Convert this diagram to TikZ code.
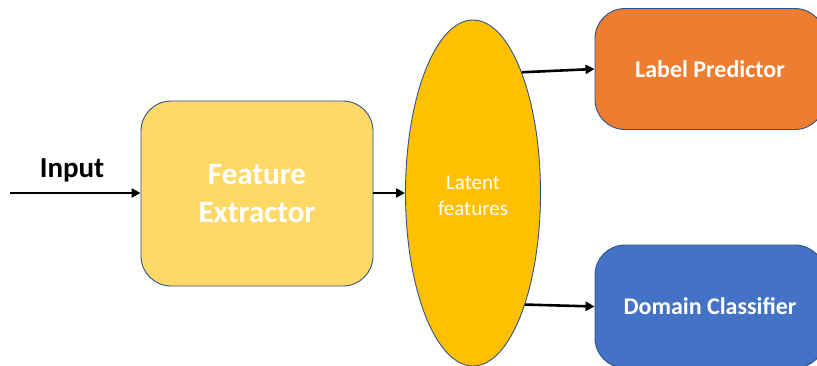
\documentclass[tikz,border=0pt]{standalone}
\usepackage{fontspec}
\setmainfont{Carlito}
\usetikzlibrary{arrows.meta,shapes.geometric}
\definecolor{fegold}{HTML}{FFD966}
\definecolor{latgold}{HTML}{FFC000}
\definecolor{lporange}{HTML}{ED7D31}
\definecolor{dcblue}{HTML}{4472C4}
\definecolor{edgeblue}{HTML}{2F528F}
\tikzset{
  block/.style={draw=edgeblue, line width=0.9pt, rounded corners=30pt,
    text=white, font=\bfseries, align=center, inner sep=0pt},
  flow/.style={line width=2.6pt, -{Triangle[length=9pt,width=9pt]}},
}
\begin{document}
\begin{tikzpicture}[x=1pt,y=-1pt]
\clip (0,0) rectangle (817,365);
\fill[white] (0,0) rectangle (817,365);

% processing stages
\node[block, fill=fegold, minimum width=232pt, minimum height=185pt,
  font=\bfseries\fontsize{31}{38}\selectfont] (fe) at (257,193.5) {Feature\\Extractor};
\node[ellipse, draw=edgeblue, line width=0.9pt, fill=latgold, inner sep=0pt,
  minimum width=135pt, minimum height=346pt, text=white, align=center,
  font=\fontsize{21}{26}\selectfont] (lat) at (473,193) {};
\node[text=white, align=center, font=\fontsize{21}{26}\selectfont, inner sep=0pt]
  (latlabel) at (473,196) {Latent\\features};
\node[block, fill=lporange, minimum width=230pt, minimum height=121pt,
  font=\bfseries\fontsize{24}{28}\selectfont] (lp) at (710,69) {Label Predictor};
\node[block, fill=dcblue, minimum width=230pt, minimum height=123pt,
  font=\bfseries\fontsize{24}{28}\selectfont] (dc) at (710,306.5) {Domain Classifier};

% input label and connectors
\coordinate (in) at (10,193);
\node[font=\bfseries\fontsize{29}{32}\selectfont, inner sep=0pt] (inlabel) at (72,170) {Input};
\draw[flow] (in) -- (fe.west |- in);
\draw[flow] (fe.east |- in) -- (lat.west);
\draw[flow] (lat.68.6) -- (lp.west);
\draw[flow] (lat.-65.7) -- (dc.west);
\end{tikzpicture}
\end{document}
